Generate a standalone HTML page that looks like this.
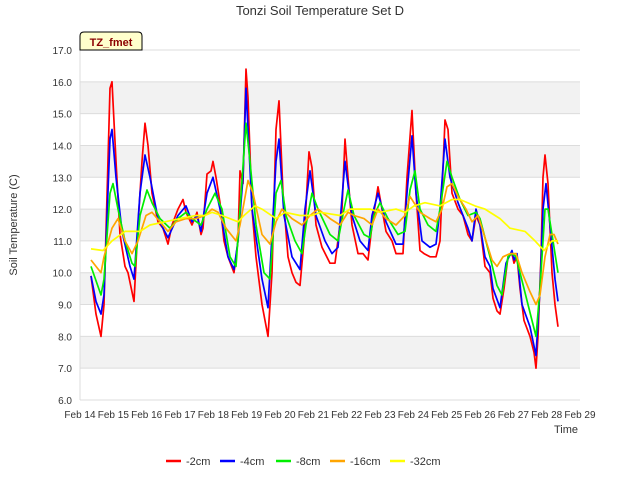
<!DOCTYPE html>
<html><head><meta charset="utf-8"><style>
body{margin:0;background:#fff;}
svg{display:block;font-family:"Liberation Sans",sans-serif;}
</style></head><body>
<svg id="chart" width="640" height="480">
<text x="320" y="15" text-anchor="middle" font-size="13" fill="#333">Tonzi Soil Temperature Set D</text>
<g id="grid"></g>
<g id="series"></g>
<g id="axes"></g>
<text transform="translate(17,225) rotate(-90)" text-anchor="middle" font-size="11" fill="#333">Soil Temperature (C)</text>
<text x="566" y="433" text-anchor="middle" font-size="11" fill="#333">Time</text>
<g>
<path d="M80,50 L80,36 Q80,32 84,32 L138,32 Q142,32 142,36 L142,50 Z" fill="#ffffcc" stroke="#000" stroke-width="1"/>
<text x="111" y="46" text-anchor="middle" font-size="11" font-weight="bold" fill="#8b0000">TZ_fmet</text>
</g>
<g id="legend"></g>
</svg>
<script>
const yTicks=[6,7,8,9,10,11,12,13,14,15,16,17];
const xTickLabels=["Feb 14","Feb 15","Feb 16","Feb 17","Feb 18","Feb 19","Feb 20","Feb 21","Feb 22","Feb 23","Feb 24","Feb 25","Feb 26","Feb 27","Feb 28","Feb 29"];
const seriesNames=["-2cm","-4cm","-8cm","-16cm","-32cm"];
const seriesColors=["#ff0000","#0000ff","#00ee00","#ffa500","#ffff00"];
const t2=[.33,.48,.63,.72,.90,.96,1.08,1.20,1.35,1.44,1.50,1.62,1.74,1.86,1.95,2.04,2.16,2.34,2.49,2.64,2.76,2.94,3.09,3.18,3.36,3.51,3.63,3.69,3.81,3.93,3.99,4.08,4.20,4.32,4.44,4.62,4.74,4.80,4.89,4.98,5.04,5.16,5.28,5.46,5.64,5.76,5.88,5.97,6.09,6.24,6.36,6.48,6.60,6.72,6.87,6.96,7.08,7.26,7.50,7.65,7.86,7.95,8.04,8.16,8.34,8.49,8.64,8.76,8.94,9.06,9.18,9.36,9.48,9.69,9.81,9.96,10.08,10.20,10.32,10.50,10.68,10.80,10.95,11.04,11.16,11.34,11.49,11.64,11.76,11.88,12.00,12.15,12.30,12.39,12.51,12.60,12.72,12.84,12.96,13.02,13.11,13.20,13.32,13.50,13.62,13.68,13.74,13.83,13.89,13.95,14.04,14.16,14.25,14.34];
const v2=[9.9,8.7,8.0,9.0,15.8,16.0,13.5,11.2,10.2,10.0,9.7,9.1,11.5,13.5,14.7,14.0,12.5,11.6,11.4,10.9,11.5,12.0,12.3,11.9,11.5,11.9,11.2,11.4,13.1,13.2,13.5,13.0,12.2,11.0,10.5,10.0,11.0,13.2,12.8,16.4,15.5,12.0,10.5,9.0,8.0,10.0,14.5,15.4,12.5,10.5,10.0,9.7,9.6,11.0,13.8,13.3,11.5,10.8,10.3,10.3,12.0,14.2,13.0,11.5,10.6,10.6,10.4,11.5,12.7,12.0,11.3,11.0,10.6,10.6,13.0,15.1,12.5,10.7,10.6,10.5,10.5,11.0,14.8,14.5,12.5,12.0,11.8,11.2,11.0,11.8,11.5,10.2,10.0,9.2,8.8,8.7,9.5,10.5,10.6,10.3,10.5,9.5,8.5,8.0,7.5,7.0,8.0,10.5,13.0,13.7,12.8,10.0,9.0,8.3];
const t4=[.33,.48,.63,.72,.90,.96,1.08,1.26,1.50,1.62,1.80,1.95,2.10,2.34,2.64,2.94,3.18,3.36,3.51,3.63,3.81,3.99,4.20,4.44,4.62,4.74,4.89,4.98,5.16,5.46,5.64,5.88,5.97,6.12,6.36,6.60,6.75,6.90,7.08,7.35,7.56,7.74,7.95,8.16,8.40,8.64,8.76,8.94,9.18,9.48,9.69,9.81,9.96,10.08,10.26,10.50,10.68,10.80,10.95,11.10,11.34,11.64,11.76,11.88,12.00,12.15,12.30,12.39,12.60,12.78,12.96,13.02,13.11,13.26,13.50,13.68,13.80,13.89,13.98,14.10,14.25,14.34];
const v4=[9.9,9.1,8.7,9.3,14.2,14.5,13.0,11.3,10.2,9.8,12.5,13.7,13.0,11.7,11.1,11.8,12.1,11.6,11.8,11.3,12.5,13.0,12.0,10.5,10.1,11.0,13.0,15.8,12.0,9.8,8.9,13.5,14.2,11.8,10.5,10.1,12.0,13.2,11.8,11.0,10.6,10.8,13.5,11.8,11.0,10.7,11.8,12.5,11.6,10.9,10.9,12.5,14.3,12.5,11.0,10.8,10.9,12.0,14.2,13.0,12.2,11.4,11.0,12.0,11.5,10.5,10.2,9.5,8.9,10.3,10.7,10.4,10.6,9.0,8.3,7.4,9.5,12.0,12.8,11.5,9.8,9.1];
const t8=[.33,.63,.72,.90,.99,1.14,1.35,1.56,1.65,1.80,2.01,2.16,2.40,2.70,2.94,3.18,3.36,3.63,3.81,4.05,4.26,4.50,4.68,4.80,4.98,5.10,5.28,5.52,5.70,5.88,6.03,6.18,6.45,6.66,6.78,6.96,7.14,7.50,7.74,7.92,8.04,8.22,8.52,8.70,8.82,9.00,9.24,9.54,9.75,9.90,10.05,10.20,10.44,10.68,10.80,11.01,11.16,11.40,11.64,11.88,12.00,12.30,12.51,12.66,12.84,12.96,13.08,13.32,13.56,13.68,13.80,13.95,14.04,14.19,14.34];
const v8=[10.2,9.3,9.8,12.5,12.8,12.0,11.0,10.3,10.2,11.8,12.6,12.2,11.7,11.4,11.7,11.9,11.7,11.5,12.0,12.5,12.0,10.5,10.2,12.0,14.7,13.5,11.5,10.0,9.8,12.5,12.9,11.8,11.0,10.6,11.5,12.5,12.0,11.2,11.0,12.0,12.6,11.8,11.2,11.1,11.8,12.2,11.7,11.2,11.3,12.6,13.2,12.0,11.5,11.3,12.0,13.5,13.0,12.3,11.8,11.9,11.7,10.5,9.6,9.3,10.5,10.6,10.5,9.5,8.5,8.0,9.5,12.0,12.0,11.0,10.0];
const t16=[.33,.48,.63,.72,.96,1.14,1.35,1.56,1.74,1.98,2.16,2.40,2.64,2.88,3.18,3.48,3.75,3.96,4.14,4.38,4.68,4.80,5.04,5.19,5.46,5.70,5.88,6.06,6.36,6.66,6.90,7.14,7.50,7.80,8.04,8.22,8.52,8.76,8.94,9.18,9.48,9.75,9.90,10.20,10.50,10.68,10.86,11.01,11.16,11.34,11.58,11.76,11.94,12.18,12.36,12.51,12.69,12.90,13.08,13.26,13.50,13.68,13.80,13.95,14.10,14.22,14.34];
const v16=[10.4,10.2,10.0,10.5,11.4,11.7,11.0,10.6,11.0,11.8,11.9,11.6,11.3,11.6,11.7,11.7,11.8,12.0,11.9,11.4,11.0,11.5,12.9,12.5,11.2,10.9,11.6,12.0,11.7,11.5,11.8,12.0,11.7,11.5,11.9,11.8,11.7,11.5,12.0,11.7,11.5,11.8,12.4,11.9,11.7,11.6,12.0,12.7,12.8,12.4,12.0,11.6,11.8,11.0,10.4,10.2,10.5,10.6,10.6,10.0,9.4,9.0,9.3,10.5,11.2,11.2,10.9];
const t32=[.33,.69,.96,1.35,1.80,2.10,2.55,3.00,3.48,3.75,3.96,4.26,4.74,4.92,5.25,5.46,5.88,6.15,6.60,6.96,7.20,7.80,8.10,8.70,9.00,9.48,9.75,10.02,10.35,10.80,11.16,11.40,11.85,12.15,12.60,12.90,13.35,13.65,13.92,14.16,14.34];
const v32=[10.75,10.7,11.0,11.3,11.3,11.5,11.6,11.7,11.8,11.8,11.9,11.8,11.6,11.8,12.1,12.0,11.7,11.9,11.8,11.8,11.9,11.8,12.0,12.0,11.9,12.0,11.9,12.1,12.2,12.1,12.3,12.3,12.1,12.0,11.7,11.4,11.3,11.0,10.7,11.0,11.0];

const NS="http://www.w3.org/2000/svg";
const L=80,R=580,T=50,B=400,ymin=6,ymax=17,dmax=15;
const xs=d=>L+d*(R-L)/dmax;
const ys=v=>B-(v-ymin)*(B-T)/(ymax-ymin);
function mk(tag,attrs,parent){const e=document.createElementNS(NS,tag);for(const k in attrs)e.setAttribute(k,attrs[k]);parent.appendChild(e);return e;}
const grid=document.getElementById('grid'),axes=document.getElementById('axes'),ser=document.getElementById('series'),leg=document.getElementById('legend');
for(let i=0;i<yTicks.length-1;i++){
  if((yTicks.length-2-i)%2===1){
    const b=mk('rect',{x:L,y:ys(yTicks[i+1]),width:R-L,height:ys(yTicks[i])-ys(yTicks[i+1]),fill:'#f2f2f2'},grid);
    
    
  }
}
yTicks.forEach(v=>{
  const g=mk('line',{x1:L,x2:R,y1:ys(v),y2:ys(v),stroke:'#dcdcdc','stroke-width':1},grid);
  
  
  const t=mk('text',{x:L-8,y:ys(v)+4,'text-anchor':'end','font-size':10,fill:'#333'},axes);
  t.textContent=v.toFixed(1);
  
  
});
const ax=mk('line',{x1:L,x2:L,y1:T,y2:B,stroke:'#dcdcdc','stroke-width':1},grid);


xTickLabels.forEach((s,i)=>{
  const t=mk('text',{x:xs(i),y:B+18,'text-anchor':'middle','font-size':10,fill:'#333'},axes);
  t.textContent=s;
  
  
});
const ts=[t2,t4,t8,t16,t32],vs=[v2,v4,v8,v16,v32];
seriesNames.forEach((n,k)=>{
  const pts=ts[k].map((d,i)=>xs(d).toFixed(1)+','+ys(vs[k][i]).toFixed(1)).join(' ');
  const p=mk('polyline',{points:pts,fill:'none',stroke:seriesColors[k],'stroke-width':1.7,'stroke-linejoin':'round'},ser);
  
  
});
const legX=[166,220,276,330,390];
seriesNames.forEach((n,k)=>{
  const ln=mk('line',{x1:legX[k],x2:legX[k]+15,y1:461,y2:461,stroke:seriesColors[k],'stroke-width':2.5},leg);
  
  
  const t=mk('text',{x:legX[k]+20,y:465,'font-size':11,fill:'#333'},leg);
  t.textContent=n;
  
  
});
</script>
</body></html>
